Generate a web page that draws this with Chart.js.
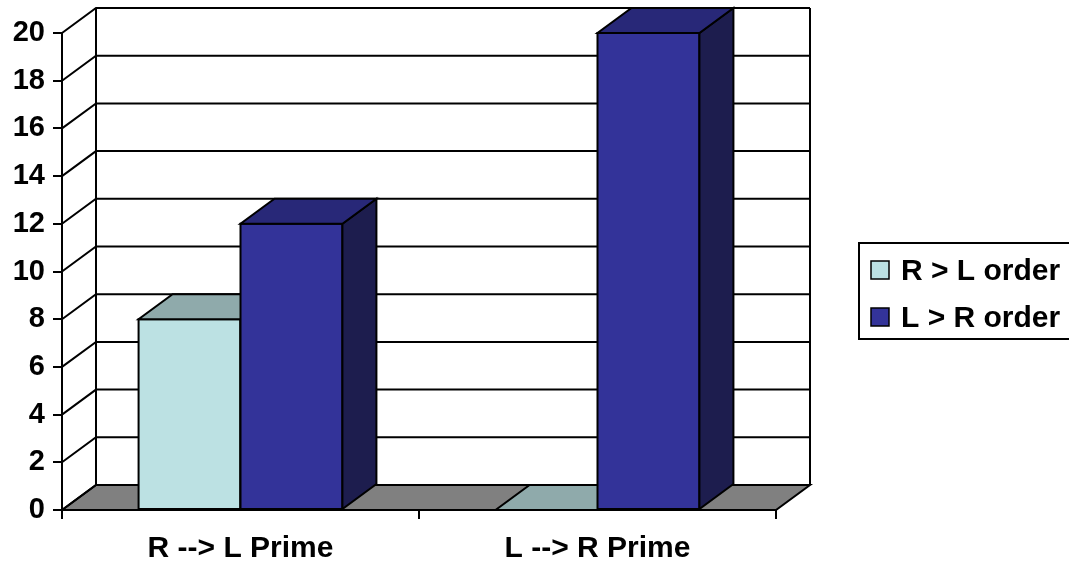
<!DOCTYPE html>
<html>
<head>
<meta charset="utf-8">
<script src="https://cdn.jsdelivr.net/npm/chart.js@4/dist/chart.umd.min.js"></script>
<style>
  html, body { margin: 0; padding: 0; background: #fff; }
  #wrap { width: 1069px; height: 562px; }
</style>
</head>
<body>
<div id="wrap"><canvas id="c" width="1069" height="562"></canvas></div>
<script>
// Chart data
const categories = ['R --> L Prime', 'L --> R Prime'];
const seriesNames = ['R > L order', 'L > R order'];
const rlOrder = [8, 0];
const lrOrder = [12, 20];
const yTickValues = [0, 2, 4, 6, 8, 10, 12, 14, 16, 18, 20];

// Styling
const FONT = "'Liberation Sans', Arial, sans-serif";
const DX = 34;   // depth offset, horizontal
const DY = 25;   // depth offset, vertical
const LINE = 2;
const faceColors = [
  { front: '#BCE1E3', top: '#8FAAAB', side: '#6F8587' },
  { front: '#333399', top: '#282878', side: '#1D1D4E' }
];

function poly(ctx, pts, fill) {
  ctx.beginPath();
  ctx.moveTo(pts[0][0], pts[0][1]);
  for (let k = 1; k < pts.length; k++) ctx.lineTo(pts[k][0], pts[k][1]);
  ctx.closePath();
  if (fill) { ctx.fillStyle = fill; ctx.fill(); }
  ctx.stroke();
}

// Floor, walls and the extruded bar faces
const depthPlugin = {
  id: 'depth3d',
  beforeDatasetsDraw(chart) {
    const { ctx, chartArea: a, scales: { y } } = chart;
    const y0 = y.getPixelForValue(0);
    const yTop = y.getPixelForValue(yTickValues[yTickValues.length - 1]);
    ctx.save();
    ctx.lineWidth = LINE;
    ctx.strokeStyle = '#000';
    ctx.lineJoin = 'miter';
    // floor
    poly(ctx, [[a.left, y0], [a.right, y0], [a.right + DX, y0 - DY], [a.left + DX, y0 - DY]], '#808080');
    // side wall diagonals + back wall gridlines
    yTickValues.forEach(v => {
      const py = y.getPixelForValue(v);
      ctx.beginPath();
      ctx.moveTo(a.left, py);
      ctx.lineTo(a.left + DX, py - DY);
      ctx.lineTo(a.right + DX, py - DY);
      ctx.stroke();
    });
    // back wall verticals
    ctx.beginPath();
    ctx.moveTo(a.left + DX, yTop - DY); ctx.lineTo(a.left + DX, y0 - DY);
    ctx.moveTo(a.right + DX, yTop - DY); ctx.lineTo(a.right + DX, y0 - DY);
    ctx.stroke();
    ctx.restore();
  },
  afterDatasetsDraw(chart) {
    const ctx = chart.ctx;
    ctx.save();
    ctx.lineWidth = LINE;
    ctx.strokeStyle = '#000';
    ctx.lineJoin = 'miter';
    chart.data.datasets.forEach((ds, i) => {
      const meta = chart.getDatasetMeta(i);
      const c = faceColors[i];
      meta.data.forEach(bar => {
        const { x, y, base, width } = bar.getProps(['x', 'y', 'base', 'width'], true);
        const l = x - width / 2, r = x + width / 2;
        if (base - y > 0.5) {
          poly(ctx, [[l, y], [r, y], [r, base], [l, base]], c.front);
          poly(ctx, [[r, y], [r + DX, y - DY], [r + DX, base - DY], [r, base]], c.side);
        }
        poly(ctx, [[l, y], [r, y], [r + DX, y - DY], [l + DX, y - DY]], c.top);
      });
    });
    ctx.restore();
  },
  afterDraw(chart) {
    // boxed legend on the right
    const ctx = chart.ctx;
    const bx = 859, by = 243, bw = 212, bh = 96;
    ctx.save();
    ctx.lineWidth = LINE;
    ctx.strokeStyle = '#000';
    ctx.strokeRect(bx, by, bw, bh);
    ctx.font = 'bold 30px ' + FONT;
    ctx.textBaseline = 'middle';
    ctx.textAlign = 'left';
    chart.data.datasets.forEach((ds, i) => {
      const cy = by + 27 + i * 47;
      ctx.lineWidth = 1.5;
      ctx.fillStyle = ds.backgroundColor;
      ctx.fillRect(bx + 12, cy - 9, 18, 18);
      ctx.strokeRect(bx + 12, cy - 9, 18, 18);
      ctx.fillStyle = '#000';
      ctx.fillText(ds.label, bx + 42, cy + 2);
    });
    ctx.restore();
  }
};

new Chart(document.getElementById('c'), {
  type: 'bar',
  data: {
    labels: categories,
    datasets: [
      { label: seriesNames[0], data: rlOrder, backgroundColor: faceColors[0].front, borderColor: '#000',
        borderWidth: LINE, borderSkipped: false, clip: false, categoryPercentage: 0.571, barPercentage: 1 },
      { label: seriesNames[1], data: lrOrder, backgroundColor: faceColors[1].front, borderColor: '#000',
        borderWidth: LINE, borderSkipped: false, clip: false, categoryPercentage: 0.571, barPercentage: 1 }
    ]
  },
  options: {
    responsive: false,
    animation: false,
    layout: { padding: { top: 33, right: 293, left: 0, bottom: 0 } },
    plugins: { legend: { display: false }, tooltip: { enabled: false } },
    scales: {
      x: {
        offset: true,
        grid: { offset: true, drawOnChartArea: false, tickLength: 9, color: '#000', lineWidth: LINE },
        border: { color: '#000', width: LINE },
        ticks: { color: '#000', font: { family: FONT, size: 30, weight: 'bold' }, padding: 12, maxRotation: 0 },
        afterFit(s) { s.height = 52; }
      },
      y: {
        min: 0, max: 20,
        afterBuildTicks(s) { s.ticks = yTickValues.map(v => ({ value: v })); },
        grid: { drawOnChartArea: false, tickLength: 9, color: '#000', lineWidth: LINE },
        border: { color: '#000', width: LINE },
        ticks: { color: '#000', font: { family: FONT, size: 29, weight: 'bold' }, padding: 8 },
        afterFit(s) { s.width = 62; }
      }
    }
  },
  plugins: [depthPlugin]
});
</script>
</body>
</html>
